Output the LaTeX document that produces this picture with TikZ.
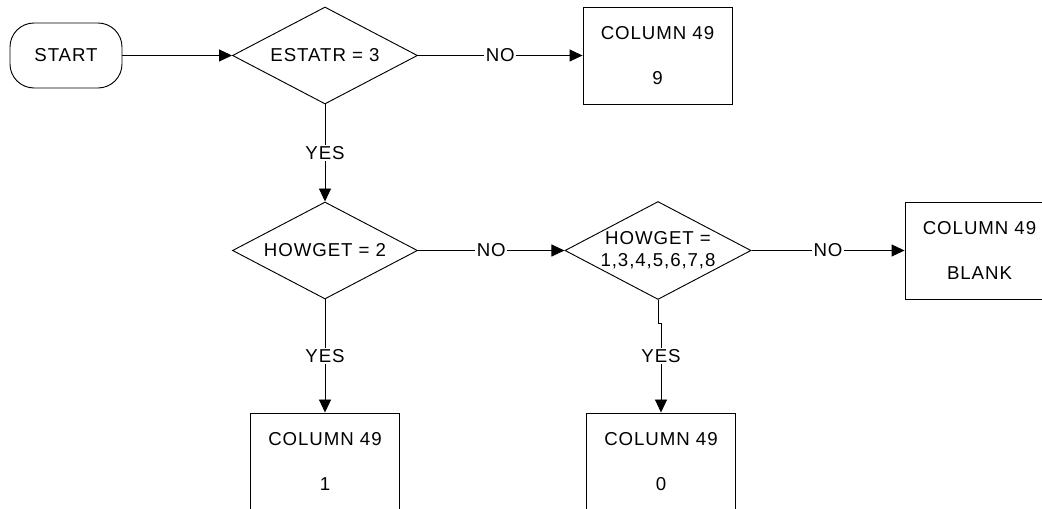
\documentclass[tikz,border=0pt]{standalone}
\usepackage{fontspec}
\setmainfont{Liberation Sans}[LetterSpace=5]
\usetikzlibrary{shapes.geometric,arrows.meta}
\begin{document}
\begin{tikzpicture}[x=0.75pt,y=-0.75pt,
  font=\fontsize{14}{18}\selectfont,
  line width=0.7pt,
  box/.style={draw, minimum width=111.75pt, minimum height=72.75pt, inner sep=0pt, align=center},
  dia/.style={draw, shape=diamond, aspect=1.9, minimum width=138.75pt, minimum height=72.75pt, inner sep=0pt, align=center},
  term/.style={draw, rounded corners=18pt, minimum width=84pt, minimum height=48.75pt},
  arr/.style={-{Triangle[length=9.75pt,width=9pt]}},
  lab/.style={fill=white, inner sep=1pt}]
\useasboundingbox (0,0) rectangle (1042,509);
\clip (0,0) rectangle (1042,509);
\node[term] (s) at (66,55.5) {START};
\node[dia] (d1) at (325,55.5) {ESTATR = 3};
\node[box] (b9) at (657.5,55.5) {COLUMN 49\\[15.75pt]9};
\node[dia] (d2) at (325,250.5) {HOWGET = 2};
\node[dia] (d3) at (658,250.5) {HOWGET =\\[-1.5pt]1,3,4,5,6,7,8};
\node[box] (bb) at (979.5,250.5) {COLUMN 49\\[15.75pt]BLANK};
\node[box] (b1) at (325,461.5) {COLUMN 49\\[15.75pt]1};
\node[box] (b0) at (661,461.5) {COLUMN 49\\[15.75pt]0};
\draw[arr] (s) -- (d1);
\draw[arr] (d1) -- node[lab]{NO} (b9);
\draw[arr] (d1) -- node[lab]{YES} (d2);
\draw[arr] (d2) -- node[lab]{NO} (d3);
\draw[arr] (d3) -- node[lab]{NO} (bb);
\draw[arr] (d2) -- node[lab]{YES} (b1);
\draw (d3.south) -- ++(0,24) coordinate (k);
\draw[arr] (k) -| node[lab,pos=0.68]{YES} (b0.north);
\end{tikzpicture}
\end{document}
